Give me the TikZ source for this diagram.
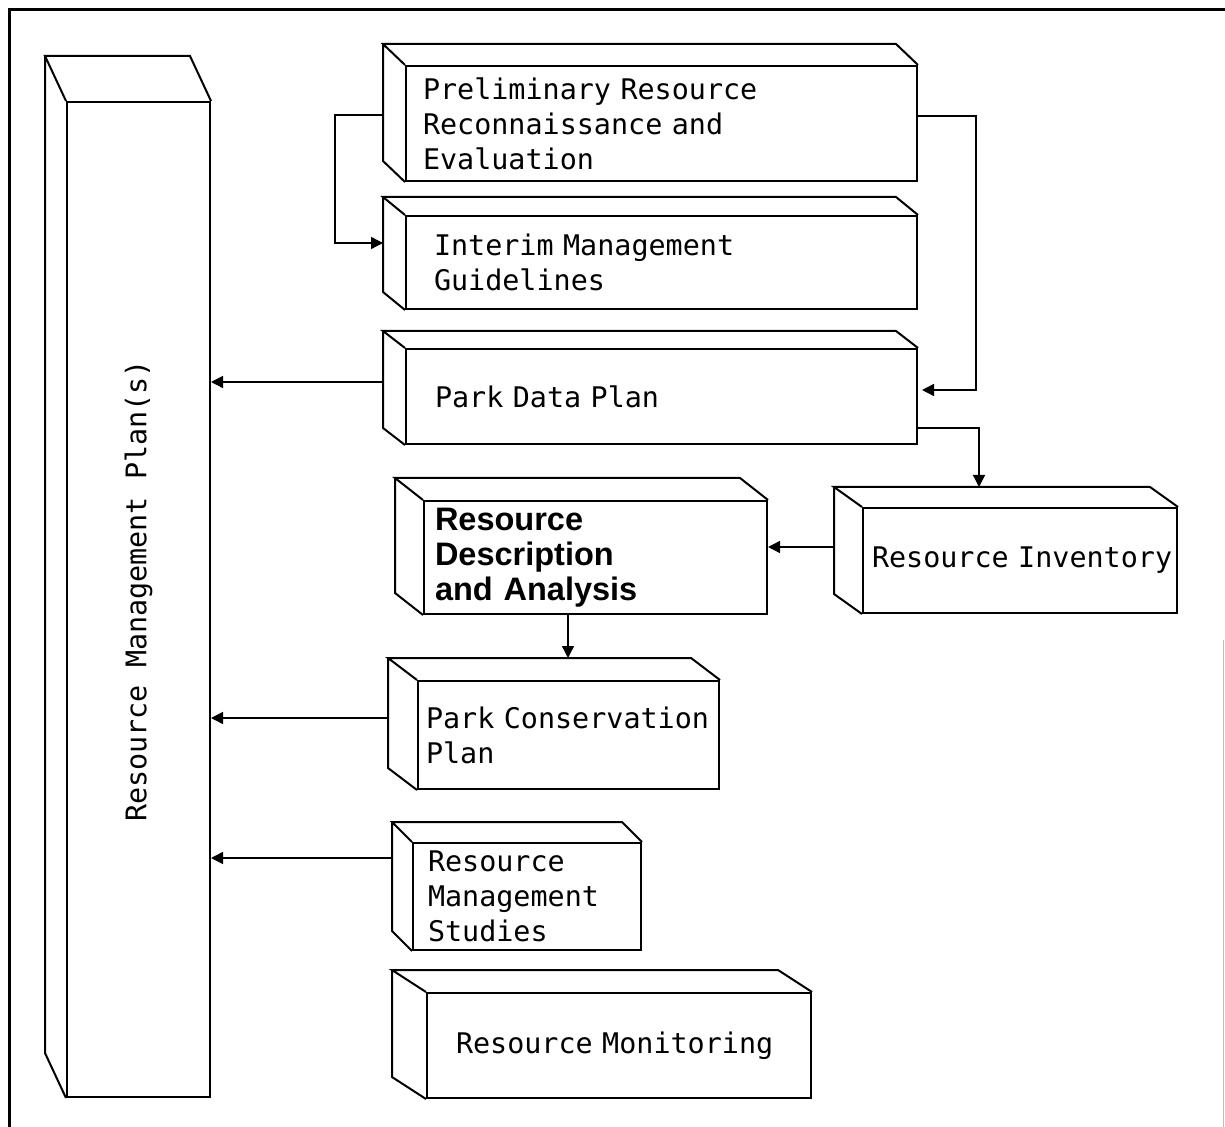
\documentclass[tikz,border=0pt]{standalone}
\usepackage{fontspec}
\setmonofont{DejaVu Sans Mono}
\setsansfont{Liberation Sans}
\usetikzlibrary{
		arrows.meta,
		calc,
		positioning
	}
\newcommand{\plotfont}{\ttfamily\fontsize{14.2}{17.5}\selectfont\fontdimen2\font=8.55pt\fontdimen3\font=0pt\fontdimen4\font=0pt\relax}
\newcommand{\heavyfont}{\sffamily\bfseries\fontsize{16.25}{17.5}\selectfont}
\tikzset{
		>={Triangle[length=6pt,width=6pt]},
		blk/.style={draw, line width=1pt, rectangle, anchor=north west, inner ysep=0pt, align=left, font=\plotfont},
		conn/.style={line width=0.7pt}
	}
\newcommand{\extrude}[3]{%
	\draw[line width=1pt] (#1.north west) -- ++(#2,#3) coordinate (#1-bnw)
		-- ($(#1.north east)+(#2,#3)$) -- (#1.north east)
		(#1-bnw) -- ($(#1.south west)+(#2,#3)$) -- (#1.south west);}

\begin{document}
\begin{tikzpicture}[x=0.5pt, y=-0.5pt]
            \useasboundingbox (0,0) rectangle (1225,1127);
            \draw[line width=1.5pt] (9,1127) -- (9,10) -- (1225,10);
            \draw[gray!50, line width=0.4pt] (1223,640) -- (1223,1127);

            \node[blk, anchor=center, minimum width=71.5pt, minimum height=497.5pt, inner sep=0pt] (rmp) at (138.5,599.5) {\rotatebox{90}{\hspace*{8.5pt}Resource Management Plan(s)}};
            \node[blk, inner xsep=8.5pt, text width=238.5pt, minimum width=255.5pt, minimum height=57.5pt] (prelim) at (405,65) {Preliminary Resource\\Reconnaissance and\\Evaluation};
            \node[blk, inner xsep=14pt, text width=227.5pt, minimum width=255.5pt, minimum height=46.5pt] (interim) at (405,215) {Interim Management\\Guidelines};
            \node[blk, inner xsep=14.5pt, text width=226.5pt, minimum width=255.5pt, minimum height=47.5pt] (datap) at (405,348) {Park Data Plan};
            \node[blk, inner xsep=4.5pt, text width=148pt, minimum width=157pt, minimum height=52.5pt] (inv) at (862,507) {Resource~Inventory};
            \node[blk, inner xsep=5.5pt, text width=160.5pt, minimum width=171.5pt, minimum height=56.5pt, font=\heavyfont] (rda) at (423,500) {Resource\\Description\\and Analysis};
            \node[blk, inner xsep=4pt, text width=142.5pt, minimum width=150.5pt, minimum height=54pt] (pcp) at (417,680) {Park~Conservation\\Plan};
            \node[blk, inner xsep=7.5pt, text width=99pt, minimum width=114pt, minimum height=53.5pt] (rms) at (412,842) {Resource\\Management\\Studies};
            \node[blk, inner xsep=14.5pt, text width=163pt, minimum width=192pt, minimum height=52.5pt] (mon) at (426,992) {Resource~Monitoring};

            \extrude{rmp}{-21}{-45}
            \extrude{prelim}{-22}{-21}
            \extrude{interim}{-22}{-18}
            \extrude{datap}{-22}{-17}
            \extrude{inv}{-28}{-20}
            \extrude{rda}{-28}{-22}
            \extrude{pcp}{-29}{-22}
            \extrude{rms}{-20}{-20}
            \extrude{mon}{-34}{-22}

            \draw[conn,->] ($(prelim-bnw)+(0,71)$) -- ++(-48,0) |- ($(interim-bnw)+(0,46)$);
            \draw[conn,->] ($(prelim.north east)+(0,51)$) -- ++(58,0) |- ($(datap.north east)+(4,42)$);
            \draw[conn,->] ($(datap-bnw)+(0,51)$) coordinate (dp-out) -- (dp-out -| rmp.east);
            \draw[conn,->] ($(datap.north east)+(0,80)$) -| ($(inv-bnw)+(145,0)$);
            \draw[conn,->] ($(inv-bnw)+(0,60)$) coordinate (inv-out) -- (inv-out -| rda.east);
            \draw[conn,->] ($(rda.south west)+(145,0)$) coordinate (rda-out) -- (rda-out |- pcp-bnw);
            \draw[conn,->] ($(pcp-bnw)+(0,60)$) coordinate (pcp-out) -- (pcp-out -| rmp.east);
            \draw[conn,->] ($(rms-bnw)+(0,36)$) coordinate (rms-out) -- (rms-out -| rmp.east);
\end{tikzpicture}
\end{document}
